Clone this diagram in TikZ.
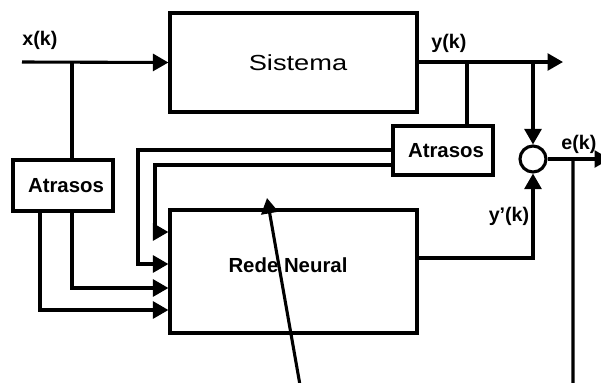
\documentclass[tikz,border=0pt]{standalone}
\usepackage{fontspec}
\setmainfont{Liberation Sans}
\usetikzlibrary{arrows.meta}

\begin{document}
\begin{tikzpicture}[x=0.025cm, y=-0.025cm, line width=2.2pt, >={Triangle[length=11pt,width=12pt]},
	every node/.style={font=\fontsize{14.5}{17}\selectfont\bfseries},
	box/.style={draw, rectangle, inner sep=0pt},
	sig/.style={font=\fontsize{14}{16}\selectfont\bfseries}]
	\clip (0,0) rectangle (601,383);
	% blocks
	\node[box, minimum width=6.175cm, minimum height=2.475cm] (sis) at (293.5,62.5) {};
	\node[font=\fontsize{15.5}{18}\selectfont, xscale=1.25] (sistxt) at (298,63) {Sistema};
	\node[box, minimum width=6.175cm, minimum height=3.075cm] (rn) at (293.5,271.5) {};
	\node (rntxt) at (288,265) {Rede Neural};
	\node[box, minimum width=2.5cm, minimum height=1.275cm] (atrL) at (63,185.5) {};
	\node (atrLtxt) at (66,186) {Atrasos};
	\node[box, minimum width=2.5cm, minimum height=1.225cm] (atrR) at (443,150.5) {};
	\node (atrRtxt) at (446,151) {Atrasos};
	\node[draw, circle, minimum size=0.65cm, inner sep=0pt] (sum) at (533,159) {};
	% signals
	\coordinate (xin) at (22,62);
	\coordinate (xbr) at (72,62);
	\coordinate (ybr) at (467,62);
	\coordinate (ysum) at (533,62);
	\coordinate (yout) at (563,62);
	\coordinate (eout) at (610,159);
	\coordinate (ebr) at (573,159);
	\node[sig] (xlab) at (40,40) {x(k)};
	\node[sig] (ylab) at (449,43) {y(k)};
	\node[sig] (elab) at (579,144) {e(k)};
	\node[sig] (yplab) at (509,216) {y’(k)};
	\draw[->] (xin) -- (sis.west);
	\draw (xbr) -- (xbr |- atrL.north);
	\draw[->] (sis.east |- yout) -- (yout);
	\draw (ybr) -- (ybr |- atrR.north);
	\draw[->] (ysum) -- (sum.north);
	\draw[->] (sum.east) -- (eout);
	\draw[->] (rn.east |- 0,258) -| (sum.south);
	% delayed inputs
	\draw[->] (atrR.west |- 0,150) -| (138,264) -- (rn.west |- 0,264);
	\draw[->] (atrR.west |- 0,165) -| (155,232) -- (rn.west |- 0,232);
	\draw[->] (atrL.south -| 72,0) |- (rn.west |- 0,288);
	\draw[->] (atrL.south -| 40,0) |- (rn.west |- 0,310);
	% error feedback
	\draw[->] (ebr) -- (573,385) -- (300,385) -- (267,198);
\end{tikzpicture}
\end{document}
